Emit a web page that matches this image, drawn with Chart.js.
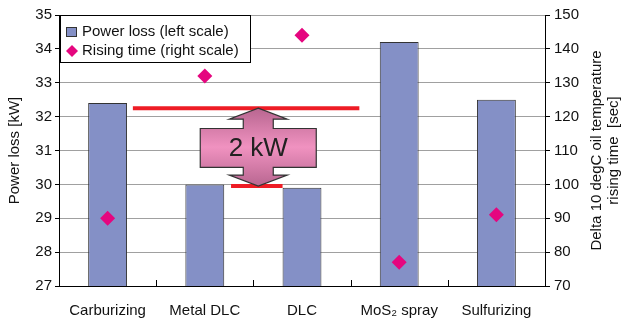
<!DOCTYPE html>
<html>
<head>
<meta charset="utf-8">
<script src="https://cdn.jsdelivr.net/npm/chart.js@4"></script>
<style>
  html, body { margin: 0; padding: 0; background: #fff; }
  #wrap { width: 621px; height: 325px; position: relative; }
</style>
</head>
<body>
<div id="wrap"><canvas id="chart"></canvas></div>
<script>
// data
const categories = ['Carburizing', 'Metal DLC', 'DLC', 'MoS\u2082 spray', 'Sulfurizing'];
const powerLoss = [32.4, 30.0, 29.9, 34.2, 32.5];      // kW, left scale
const risingTime = [90, 132, 144, 77, 91];              // sec, right scale
const leftRange = [27, 35];
const rightRange = [70, 150];

// "2 kW" annotation levels (left scale) and extents (category index)
const upperLevel = 32.25;
const lowerLevel = 29.95;
const upperSpan = [0.26, 2.59];
const lowerSpan = [1.27, 1.80];
const arrowAt = 1.55;
const arrowBox = [31.65, 30.5];

const FONT = '"Liberation Sans", Arial, sans-serif';

const extras = {
  id: 'extras',
  afterDatasetsDraw(chart) {
    const ctx = chart.ctx;
    const x = chart.scales.x, y = chart.scales.y;
    const area = chart.chartArea;
    ctx.save();

    // small upward ticks at category boundaries
    ctx.strokeStyle = '#000';
    ctx.lineWidth = 1;
    for (let i = 0; i < categories.length - 1; i++) {
      const px = Math.round(x.getPixelForValue(i + 0.5)) + 0.5;
      ctx.beginPath();
      ctx.moveTo(px, area.bottom);
      ctx.lineTo(px, area.bottom - 6);
      ctx.stroke();
    }

    // red level lines
    ctx.strokeStyle = '#ee1c25';
    ctx.lineWidth = 4;
    [[upperLevel, upperSpan], [lowerLevel, lowerSpan]].forEach(([lv, sp]) => {
      const py = y.getPixelForValue(lv);
      ctx.beginPath();
      ctx.moveTo(x.getPixelForValue(sp[0]), py);
      ctx.lineTo(x.getPixelForValue(sp[1]), py);
      ctx.stroke();
    });

    // double arrow with box
    const cx = x.getPixelForValue(arrowAt);
    const top = y.getPixelForValue(upperLevel);
    const bot = y.getPixelForValue(lowerLevel);
    const bTop = y.getPixelForValue(arrowBox[0]);
    const bBot = y.getPixelForValue(arrowBox[1]);
    const head = 11, hw = 29, sw = 15, bw = 58;
    ctx.beginPath();
    ctx.moveTo(cx, top);
    ctx.lineTo(cx + hw, top + head);
    ctx.lineTo(cx + sw, top + head);
    ctx.lineTo(cx + sw, bTop);
    ctx.lineTo(cx + bw, bTop);
    ctx.lineTo(cx + bw, bBot);
    ctx.lineTo(cx + sw, bBot);
    ctx.lineTo(cx + sw, bot - head);
    ctx.lineTo(cx + hw, bot - head);
    ctx.lineTo(cx, bot);
    ctx.lineTo(cx - hw, bot - head);
    ctx.lineTo(cx - sw, bot - head);
    ctx.lineTo(cx - sw, bBot);
    ctx.lineTo(cx - bw, bBot);
    ctx.lineTo(cx - bw, bTop);
    ctx.lineTo(cx - sw, bTop);
    ctx.lineTo(cx - sw, top + head);
    ctx.lineTo(cx - hw, top + head);
    ctx.closePath();
    const g = ctx.createLinearGradient(0, top, 0, bot);
    g.addColorStop(0, '#b86690');
    g.addColorStop(0.5, '#f092c0');
    g.addColorStop(1, '#b86690');
    ctx.fillStyle = g;
    ctx.fill();
    ctx.strokeStyle = '#333';
    ctx.lineWidth = 1.2;
    ctx.stroke();
    ctx.fillStyle = '#222';
    ctx.font = '26px ' + FONT;
    ctx.textAlign = 'center';
    ctx.textBaseline = 'middle';
    ctx.fillText('2 kW', cx, (bTop + bBot) / 2 + 1);

    // legend box
    const lx = area.left + 1, ly = area.top;
    ctx.fillStyle = '#fff';
    ctx.fillRect(lx, ly, 190, 47);
    ctx.strokeStyle = '#000';
    ctx.lineWidth = 1;
    ctx.strokeRect(lx + 0.5, ly + 0.5, 190, 47);
    ctx.fillStyle = '#8490c6';
    ctx.fillRect(lx + 6, ly + 12, 11, 10);
    ctx.strokeStyle = '#333';
    ctx.strokeRect(lx + 6.5, ly + 12.5, 10, 9);
    ctx.fillStyle = '#e5067f';
    const dx = lx + 12, dy = ly + 36;
    ctx.beginPath();
    ctx.moveTo(dx, dy - 6); ctx.lineTo(dx + 6, dy); ctx.lineTo(dx, dy + 6); ctx.lineTo(dx - 6, dy);
    ctx.closePath(); ctx.fill();
    ctx.fillStyle = '#111';
    ctx.font = '15px ' + FONT;
    ctx.textAlign = 'left';
    ctx.fillText('Power loss (left scale)', lx + 22, ly + 17);
    ctx.fillText('Rising time (right scale)', lx + 22, ly + 36);

    // axis titles
    ctx.font = '15px ' + FONT;
    ctx.textAlign = 'center';
    ctx.fillStyle = '#111';
    ctx.save();
    ctx.translate(15, (area.top + area.bottom) / 2);
    ctx.rotate(-Math.PI / 2);
    ctx.fillText('Power loss [kW]', 0, 0);
    ctx.restore();
    ctx.save();
    ctx.translate(597, (area.top + area.bottom) / 2);
    ctx.rotate(-Math.PI / 2);
    ctx.fillText('Delta 10 degC oil temperature', 0, 0);
    ctx.fillText('rising time  [sec]', 0, 17);
    ctx.restore();

    ctx.restore();
  }
};

new Chart(document.getElementById('chart'), {
  type: 'bar',
  data: {
    labels: categories,
    datasets: [{
      label: 'Rising time (right scale)',
      type: 'line',
      data: risingTime,
      yAxisID: 'y1',
      showLine: false,
      pointStyle: 'rectRot',
      pointRadius: 7.5,
      pointBackgroundColor: '#e5067f',
      pointBorderWidth: 0,
      order: 0
    }, {
      label: 'Power loss (left scale)',
      data: powerLoss,
      yAxisID: 'y',
      backgroundColor: '#8490c6',
      borderColor: '#333',
      borderWidth: 1,
      barPercentage: 0.4,
      categoryPercentage: 1,
      order: 1
    }]
  },
  options: {
    responsive: true,
    maintainAspectRatio: false,
    animation: false,
    layout: { padding: { top: 15, left: 0, right: 0, bottom: 0 } },
    plugins: { legend: { display: false }, tooltip: { enabled: false } },
    scales: {
      x: {
        grid: { display: false },
        border: { color: '#000', width: 1 },
        ticks: { color: '#111', font: { family: FONT, size: 15 }, padding: 8, maxRotation: 0 },
        afterFit(s) { s.height = 39; }
      },
      y: {
        position: 'left',
        min: leftRange[0], max: leftRange[1],
        ticks: { stepSize: 1, color: '#111', font: { family: FONT, size: 15 }, padding: 3 },
        grid: { color: '#a0a0a0', tickColor: '#000', tickLength: 4 },
        border: { color: '#000', width: 1 },
        afterFit(s) { s.width = 59; }
      },
      y1: {
        position: 'right',
        min: rightRange[0], max: rightRange[1],
        ticks: { stepSize: 10, color: '#111', font: { family: FONT, size: 15 }, padding: 4 },
        grid: { drawOnChartArea: false, tickColor: '#000', tickLength: 5 },
        border: { color: '#000', width: 1 },
        afterFit(s) { s.width = 76; }
      }
    }
  },
  plugins: [extras]
});
</script>
</body>
</html>
